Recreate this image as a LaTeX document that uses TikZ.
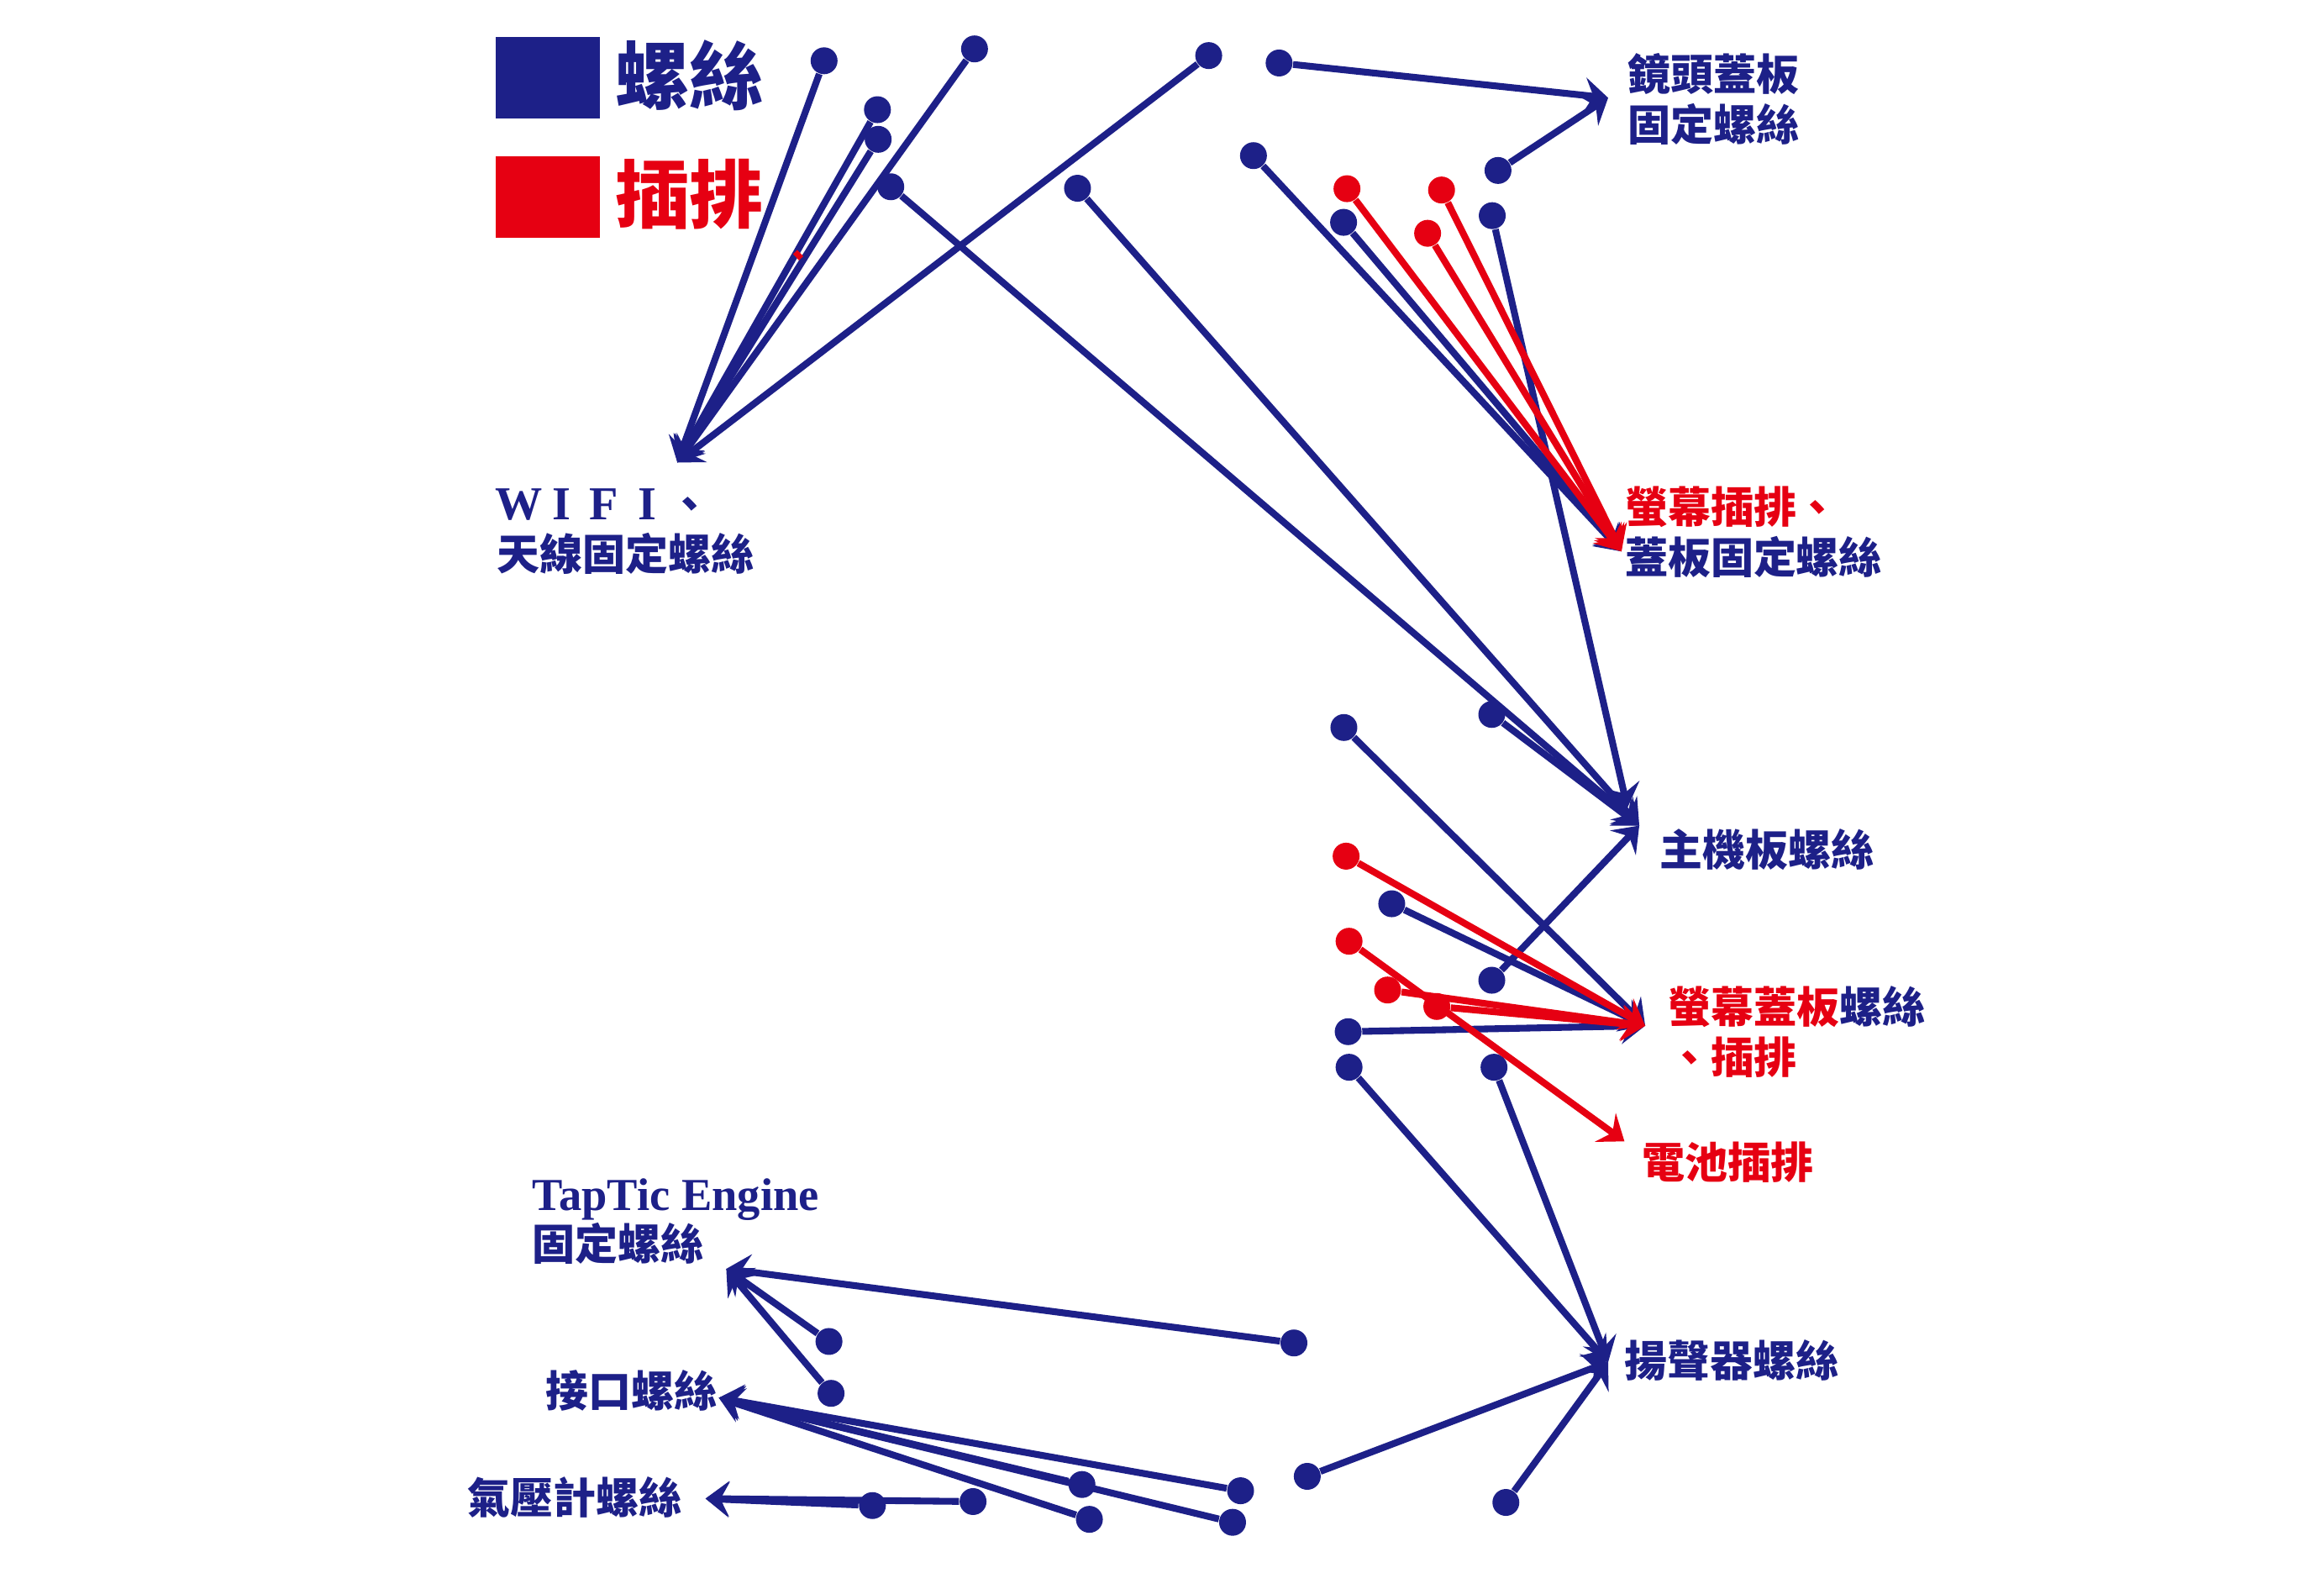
\documentclass[tikz,border=0pt]{standalone}
\usepackage{fontspec}
\setmainfont{Noto Sans CJK TC}
\newfontfamily\latinserif{Liberation Serif}
\usepackage{tikz}
\usetikzlibrary{arrows.meta,positioning}
\definecolor{Screw}{HTML}{1D2088}
\definecolor{Plug}{HTML}{E60012}

\begin{document}
\begin{tikzpicture}[x=0.01764cm,y=-0.01764cm,
  bolt/.style={circle,fill=Screw,inner sep=0,minimum size=0.32cm},
  plugdot/.style={circle,fill=Plug,inner sep=0,minimum size=0.32cm},
  boltline/.style={Screw,line width=2.3pt,-{Stealth[length=8pt,width=12pt,inset=3pt]}},
  plugline/.style={Plug,line width=2.3pt,-{Stealth[length=8pt,width=12pt,inset=3pt]}},
  lbl/.style={anchor=west,inner sep=0,align=left,text=Screw,font=\fontsize{14.5}{17}\selectfont\bfseries},
  keylbl/.style={anchor=west,inner sep=0,font=\fontsize{25}{30}\selectfont\bfseries}]
  \useasboundingbox (0,0) rectangle (1568,1061);
  \fill[Screw] (334.4,24.9) rectangle (404.8,79.8);
  \fill[Plug] (334.4,105.5) rectangle (404.8,160.3);
  \node[keylbl,text=Screw] (keyScrew) at (415,51) {螺絲};
  \node[keylbl,text=Plug] (keyPlug) at (415,131) {插排};

  \node[lbl] (wifiLbl) at (335,358.5) {{\latinserif\fontsize{16}{17}\selectfont\makebox[14.5pt]{W}\makebox[14.5pt]{I}\makebox[14.5pt]{F}\makebox[14.5pt]{I}}、\\天線固定螺絲};
  \node[lbl] (lensLbl) at (1098,67) {鏡頭蓋板\\固定螺絲};
  \node[lbl] (coverLbl) at (1096,359) {{\color{Plug}螢幕插排、}\\蓋板固定螺絲};
  \node[lbl] (mainLbl) at (1119.5,573) {主機板螺絲};
  \node[lbl] (screenLbl) at (1125,696) {{\color{Plug}螢幕蓋板}螺絲\\{\color{Plug}、插排}};
  \node[lbl,text=Plug] (battLbl) at (1107.5,784) {電池插排};
  \node[lbl] (spkLbl) at (1095.5,918) {揚聲器螺絲};
  \node[lbl,font=\fontsize{14.5}{16}\selectfont\bfseries] (tapLbl) at (359,824) {{\latinserif\fontsize{15.5}{16}\selectfont TapTic Engine}\\固定螺絲};
  \node[lbl] (portLbl) at (368,938) {接口螺絲};
  \node[lbl] (baroLbl) at (315,1010) {氣壓計螺絲};

  \coordinate (wifiTip) at (457,312);
  \coordinate (lensTip) at (1085,66);
  \coordinate (mainTipA) at (1098,545);
  \coordinate (mainTip) at (1106,557);
  \coordinate (coverTip) at (1094,372);
  \coordinate (screenTip) at (1110,692);
  \coordinate (battTip) at (1096,770);
  \coordinate (spkTip) at (1085,919);
  \coordinate (tapTip) at (490,856);
  \coordinate (portTip) at (485,943);
  \coordinate (baroTip) at (476,1011);

  \foreach \n/\x/\y in {w1/556/41, w2/592/74, w3/592.5/94, w4/657.5/33, w5/815.5/37.5,
    l1/863/42.5, l2/1010.7/115,
    m1/601/126, m2/727/127, m3/1006.8/145.5, m4/1006.5/482, m5/1006.5/661.3,
    c1/845.7/105, c2/906.5/150,
    s1/906.7/490.8, s3/939/609.7, s6/909.6/696,
    k1/910.2/720, k2/1008/720, k3/882/996, k4/1016/1013.6,
    t1/873/906, t2/559.3/905, t3/560.7/940,
    q1/730/1001.5, q2/735/1025, q3/837/1005.7, q4/831.6/1027,
    b1/588.6/1015.7, b2/656.5/1013}
    \node[bolt] (\n) at (\x,\y) {};
  \foreach \n/\x/\y in {c3/908.8/127.3, c4/972.6/128.2, c5/963.2/157.4,
    s2/908.2/577.6, s4/936.2/667.9, s5/969.4/679, p1/910.2/635}
    \node[plugdot] (\n) at (\x,\y) {};

  \foreach \n in {w1,w2,w3,w4,w5} \draw[boltline] (\n) -- (wifiTip);
  \foreach \n in {l1,l2} \draw[boltline] (\n) -- (lensTip);
  \draw[boltline] (m3) -- (mainTipA);
  \foreach \n in {m1,m2,m4,m5} \draw[boltline] (\n) -- (mainTip);
  \foreach \n in {c1,c2} \draw[boltline] (\n) -- (coverTip);
  \foreach \n in {s1,s3,s6} \draw[boltline] (\n) -- (screenTip);
  \foreach \n in {k1,k2,k3,k4} \draw[boltline] (\n) -- (spkTip);
  \foreach \n in {t1,t2,t3} \draw[boltline] (\n) -- (tapTip);
  \foreach \n in {q1,q2,q3,q4} \draw[boltline] (\n) -- (portTip);
  \foreach \n in {b1,b2} \draw[boltline] (\n) -- (baroTip);
  \foreach \n in {c3,c4,c5} \draw[plugline] (\n) -- (coverTip);
  \foreach \n in {s2,s4,s5} \draw[plugline] (\n) -- (screenTip);
  \draw[plugline] (p1) -- (battTip);
  \draw[Plug,line width=2pt] (536.5,170) -- (540.5,174.3);
\end{tikzpicture}
\end{document}
